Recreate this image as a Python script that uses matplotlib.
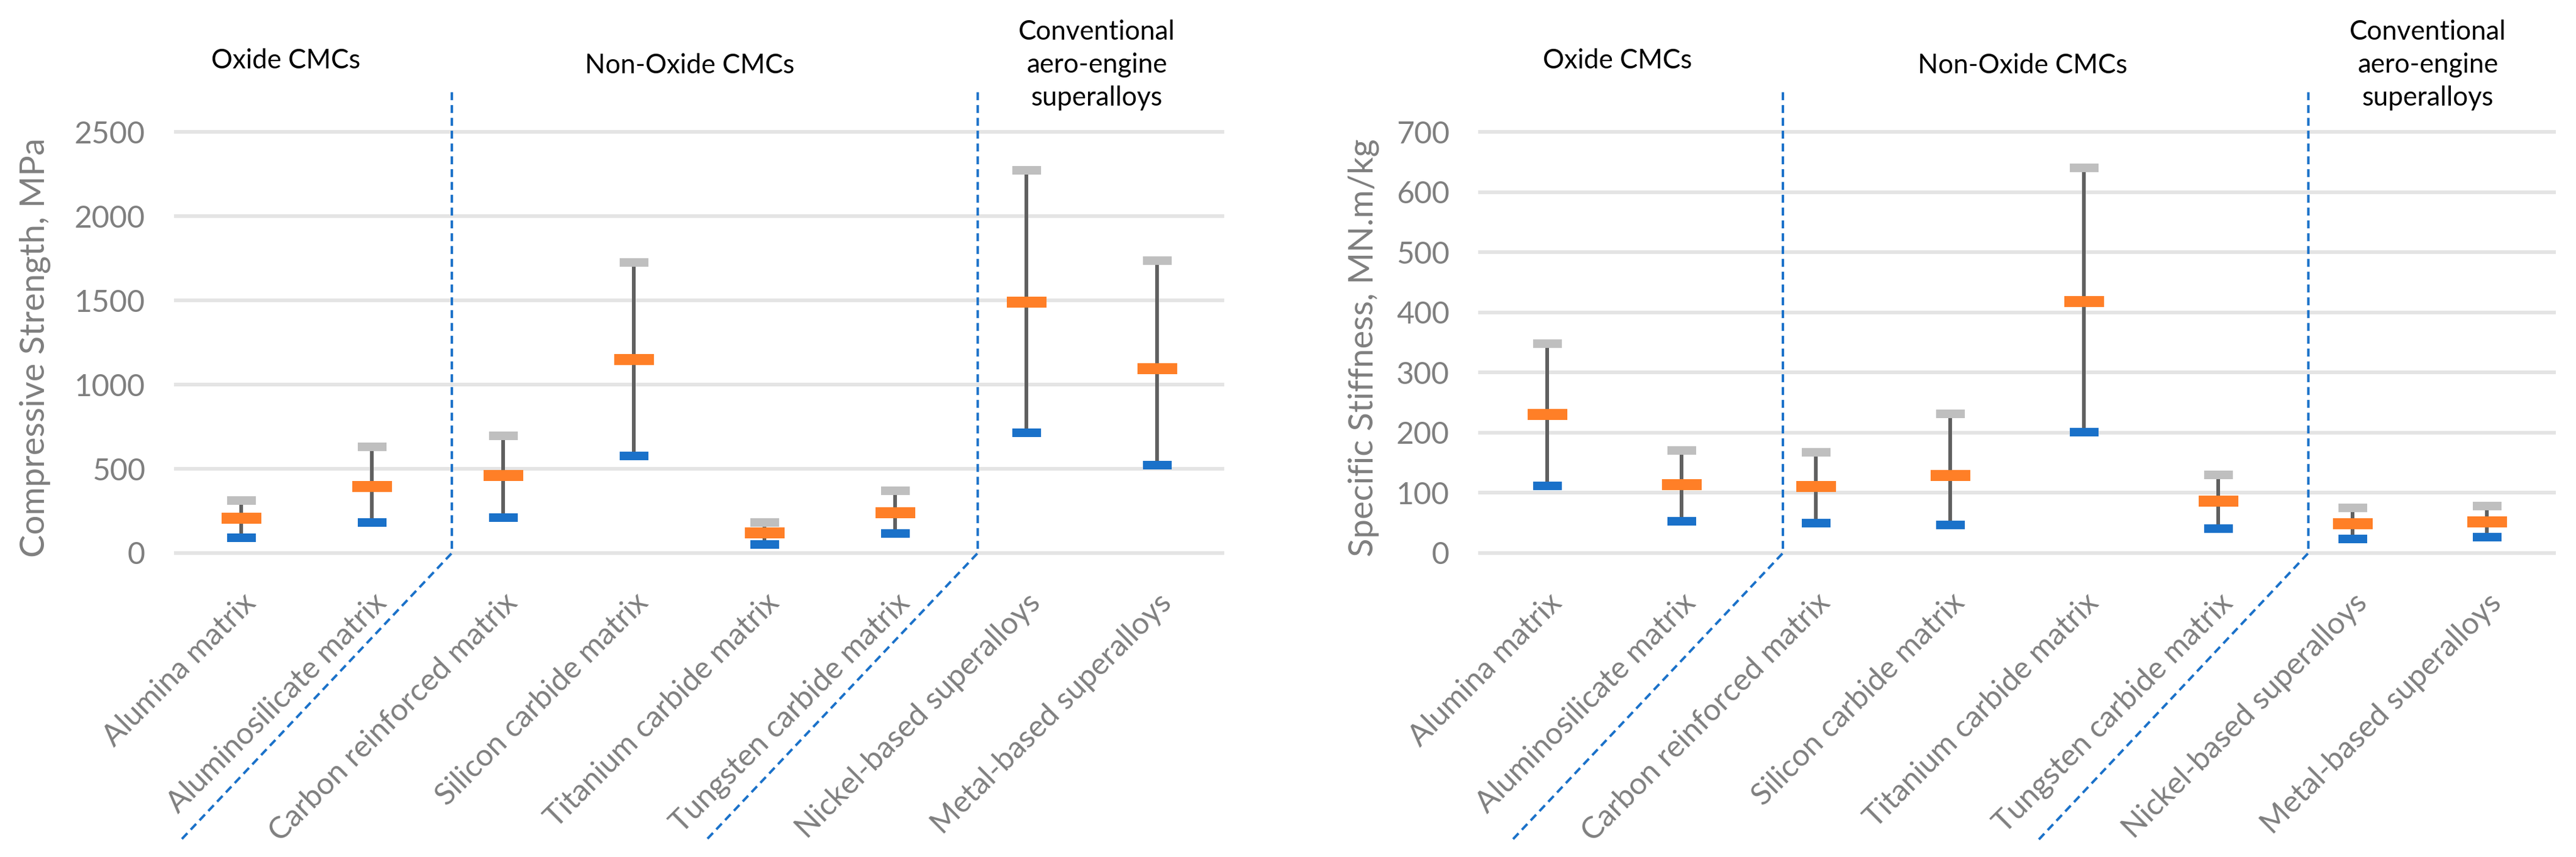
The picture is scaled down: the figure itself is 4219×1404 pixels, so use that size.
import matplotlib
matplotlib.use("Agg")
import matplotlib.pyplot as plt
import matplotlib.transforms as mtransforms
import numpy as np

plt.rcParams['font.family'] = ['Lato', 'DejaVu Sans']

# ---------------- data ----------------
categories = ["Alumina matrix", "Aluminosilicate matrix", "Carbon reinforced matrix",
              "Silicon carbide matrix", "Titanium carbide matrix", "Tungsten carbide matrix",
              "Nickel-based superalloys", "Metal-based superalloys"]

strength_min = [90, 180, 210, 575, 50, 115, 715, 520]
strength_mid = [208, 395, 460, 1150, 120, 240, 1490, 1095]
strength_max = [312, 630, 695, 1725, 180, 370, 2270, 1735]

stiff_min = [112, 53, 50, 47, 201, 41, 23, 26]
stiff_mid = [230, 114, 111, 129, 418, 86, 49, 52]
stiff_max = [348, 170, 167, 231, 640, 130, 75, 78]

strength_ticks = [0, 500, 1000, 1500, 2000, 2500]
stiff_ticks = [0, 100, 200, 300, 400, 500, 600, 700]

group_names = ["Oxide CMCs", "Non-Oxide CMCs", "Conventional\naero-engine\nsuperalloys"]

# ---------------- style ----------------
C_BLUE = "#1a71c9"
C_ORANGE = "#ff7f27"
C_GRAY = "#bfbfbf"
C_STEM = "#606060"
C_GRID = "#e4e4e4"
C_TEXT = "#7f7f7f"

W, H, DPI = 4219, 1404, 300
fig = plt.figure(figsize=(W / DPI, H / DPI), dpi=DPI, facecolor="white")

def rect_marker(h):
    return [(-1, -h), (1, -h), (1, h), (-1, h), (-1, -h)]

def px(v):
    return v * 72.0 / DPI

GROUP_Y = [1.151, 1.139, 1.267]
GROUP_VA = ['baseline', 'baseline', 'top']

def panel(rect, vmin, vmid, vmax, ticks, ylabel, ylab_x, group_x, dash_top, dash_bot):
    ax = fig.add_axes(rect)
    x = np.arange(len(categories))
    ax.set_xlim(-0.5, len(categories) - 0.5)
    ax.set_ylim(ticks[0], ticks[-1])
    ax.set_yticks(ticks)
    ax.set_yticklabels([str(t) for t in ticks])
    ax.set_xticks(x)
    ax.set_xticklabels(categories, rotation=45, ha='right', va='top', rotation_mode='anchor')
    for s in ax.spines.values():
        s.set_visible(False)
    ax.tick_params(axis='both', length=0, colors=C_TEXT, labelsize=12)
    ax.tick_params(axis='y', pad=12)
    ax.tick_params(axis='x', pad=14)
    ax.set_axisbelow(True)
    ax.yaxis.grid(True, color=C_GRID, linewidth=px(6))
    for gl in ax.get_ygridlines():
        gl.set_clip_on(False)
    ax.set_ylabel(ylabel, color=C_TEXT, fontsize=13.5)
    ax.yaxis.set_label_coords(ylab_x, 0.487)

    ax.vlines(x, vmin, vmax, color=C_STEM, linewidth=px(6), zorder=2)
    ax.plot(x, vmax, linestyle='none', marker=rect_marker(0.30), markersize=px(47),
            markeredgewidth=0, color=C_GRAY, zorder=3)
    ax.plot(x, vmin, linestyle='none', marker=rect_marker(0.30), markersize=px(47),
            markeredgewidth=0, color=C_BLUE, zorder=3)
    ax.plot(x, vmid, linestyle='none', marker=rect_marker(0.28), markersize=px(65),
            markeredgewidth=0, color=C_ORANGE, zorder=4)

    trans = mtransforms.blended_transform_factory(ax.transData, ax.transAxes)
    for name, gx, gy, va in zip(group_names, group_x, GROUP_Y, GROUP_VA):
        ax.text(gx, gy, name, transform=trans, ha='center', va=va,
                fontsize=10.5, color='black', linespacing=1.4)
    for xt, xb in zip(dash_top, dash_bot):
        ax.plot([xt, xt, xb], [1.094, 0.0, -0.681], transform=trans, clip_on=False,
                color=C_BLUE, linewidth=px(4), linestyle=(0, (3.25, 2)), zorder=1)
    return ax

# axes rectangles from pixel layout
def rect_px(l, r, t, b):
    return [l / W, 1 - b / H, (r - l) / W, (b - t) / H]

panel(rect_px(288, 2002, 216, 906), strength_min, strength_mid, strength_max,
      strength_ticks, "Compressive Strength, MPa", -0.1196,
      [0.34, 3.43, 6.54], [1.61, 5.63], [-0.46, 3.556])

panel(rect_px(2424, 4183, 216, 906), stiff_min, stiff_mid, stiff_max,
      stiff_ticks, "Specific Stiffness, MN.m/kg", -0.0938,
      [0.523, 3.54, 6.56], [1.756, 5.67], [-0.259, 3.66])

fig.savefig("out.png", dpi=DPI, facecolor="white")
